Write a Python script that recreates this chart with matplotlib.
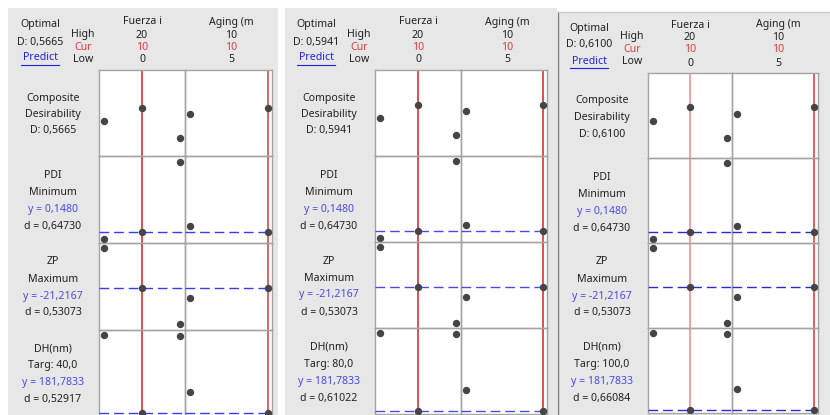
import matplotlib
matplotlib.use("Agg")
import matplotlib.pyplot as plt
from matplotlib.patches import Rectangle
from matplotlib.lines import Line2D

plt.rcParams['font.family'] = ['Noto Sans', 'DejaVu Sans']

W, H = 830, 415

# factor levels
fuerza_levels = [0, 10, 20]
aging_levels = [5, 10]
fuerza_cur = 10
aging_cur = 10

# point heights within each row (fraction of row height, from bottom)
comp_fuerza = [[0.41, 0.56, 0.21], [0.44, 0.59, 0.24], [0.44, 0.60, 0.24]]
comp_aging = [[0.49, 0.56], [0.52, 0.59], [0.52, 0.60]]
pdi_fuerza = [0.05, 0.13, 0.94]
pdi_aging = [0.20, 0.13]
zp_fuerza = [0.94, 0.48, 0.06]
zp_aging = [0.36, 0.48]
dh_fuerza = [0.94, 0.04, 0.93]
dh_aging = [0.28, 0.04]

# texts
optimal_d = ['0,5665', '0,5941', '0,6100']
dh_target = ['40,0', '80,0', '100,0']
dh_d = ['0,52917', '0,61022', '0,66084']
pdi_text = ['PDI', 'Minimum', 'y = 0,1480', 'd = 0,64730']
zp_text = ['ZP', 'Maximum', 'y = -21,2167', 'd = 0,53073']

# panel layout in pixels
bg_box = [(8, 8, 278, 415), (285, 8, 557, 415), (558, 12, 830, 415)]
plot_left = [99, 375, 648]
plot_mid = [185, 461, 732]
plot_right = [272, 547, 818]
plot_top = [70, 70, 73]
row_h = [86.5, 86, 85]
ox = [0, 276, 549]
oy = [0, 0, 3]
red1 = ['#d42020', '#d42020', '#f08888']
red2 = ['#d83a3a', '#d42020', '#e43030']
blue = ['#3a3aee', '#4a4ae8', '#2a2ad8']

TXT = '#202020'
BLUE_T = '#4a4ae6'
RED_T = '#e03a3a'
FS = 7.6


def fx(x):
    return x / W


def fy(y):
    return 1 - y / H


fig = plt.figure(figsize=(W / 100, H / 100), dpi=100, facecolor='white')


def txt(x, y, s, color=TXT, **kw):
    fig.text(fx(x), fy(y), s, color=color, fontsize=FS, ha='center', va='center', **kw)


for p in range(3):
    l, t, r, b = bg_box[p]
    fig.patches.append(Rectangle((fx(l), fy(b)), fx(r - l), (b - t) / H, transform=fig.transFigure,
                                 facecolor='#e7e7e7', edgecolor='none', zorder=-2))
    if p == 2:
        fig.add_artist(Line2D([fx(l - 0.5), fx(l - 0.5)], [fy(t), fy(b)], color='#7a7a7a', lw=1))
        fig.add_artist(Line2D([fx(l), fx(r)], [fy(t), fy(t)], color='#c8c8c8', lw=1))

    dx, dy = ox[p], oy[p]
    # header
    txt(40 + dx, 25 + dy, 'Optimal')
    txt(40 + dx, 42 + dy, 'D: ' + optimal_d[p])
    txt(40 + dx, 58 + dy, 'Predict', color='#2020e0')
    fig.add_artist(Line2D([fx(21 + dx), fx(59 + dx)], [fy(65 + dy), fy(65 + dy)], color='#2020e0', lw=0.8))
    txt(83 + dx, 34 + dy, 'High')
    txt(83 + dx, 47 + dy, 'Cur', color=RED_T)
    txt(83 + dx, 59 + dy, 'Low')
    fc = (plot_left[p] + plot_mid[p]) / 2
    ac = (plot_mid[p] + plot_right[p]) / 2 + 3
    txt(fc, 22 + dy, 'Fuerza i')
    txt(fc, 35 + dy, str(fuerza_levels[2]))
    txt(fc, 47 + dy, str(fuerza_cur), color=RED_T)
    txt(fc, 60 + dy, str(fuerza_levels[0]))
    txt(ac, 22 + dy, 'Aging (m')
    txt(ac, 35 + dy, str(aging_levels[1]))
    txt(ac, 47 + dy, str(aging_cur), color=RED_T)
    txt(ac, 60 + dy, str(aging_levels[0]))

    # row labels
    lx = 53 + dx
    top = plot_top[p]
    rh = row_h[p]
    comp_lines = ['Composite', 'Desirability', 'D: ' + optimal_d[p]]
    for i, s in enumerate(comp_lines):
        txt(lx, top + 28 + 16.5 * i, s)
    dh_text = ['DH(nm)', 'Targ: ' + dh_target[p], 'y = 181,7833', 'd = ' + dh_d[p]]
    for k, lines in enumerate([pdi_text, zp_text, dh_text]):
        rt = top + rh * (k + 1)
        for i, s in enumerate(lines):
            txt(lx, rt + 19 + 17 * i, s, color=BLUE_T if i == 2 else TXT)

    # white plot area
    pl, pr = plot_left[p], plot_right[p]
    fig.patches.append(Rectangle((fx(pl), fy(top + 4 * rh)), fx(pr - pl), 4 * rh / H,
                                 transform=fig.transFigure, facecolor='white', edgecolor='none', zorder=-1))

    rows = [(comp_fuerza[p], comp_aging[p], False),
            (pdi_fuerza, pdi_aging, True),
            (zp_fuerza, zp_aging, True),
            (dh_fuerza, dh_aging, True)]
    for k, (yf, ya, has_goal) in enumerate(rows):
        rt = top + rh * k
        rb = rt + rh
        for c in range(2):
            cl = plot_left[p] if c == 0 else plot_mid[p]
            cr = plot_mid[p] if c == 0 else plot_right[p]
            ax = fig.add_axes([fx(cl), fy(rb), (cr - cl) / W, rh / H])
            ax.set_facecolor('none')
            ax.set_xticks([])
            ax.set_yticks([])
            for sp in ax.spines.values():
                sp.set_color('#a4a4a4')
                sp.set_linewidth(1)
            ax.set_ylim(0, 1)
            if c == 0:
                xs, ys = fuerza_levels, yf
                ax.set_xlim(-1.3, 21.3)
                cur = fuerza_cur
                col = red1[p]
                ygoal = yf[1]
            else:
                xs, ys = aging_levels, ya
                ax.set_xlim(4.68, 10.26)
                cur = aging_cur
                col = red2[p]
                ygoal = ya[1]
            ax.axvline(cur, color=col, lw=1.1, zorder=2)
            if has_goal:
                ax.axhline(ygoal, color=blue[p], lw=1, dashes=(7, 3.5), zorder=3)
            ax.plot(xs, ys, 'o', color='#454545', ms=4.3, clip_on=False, zorder=4)

fig.savefig('out.png', dpi=100, facecolor='white')
